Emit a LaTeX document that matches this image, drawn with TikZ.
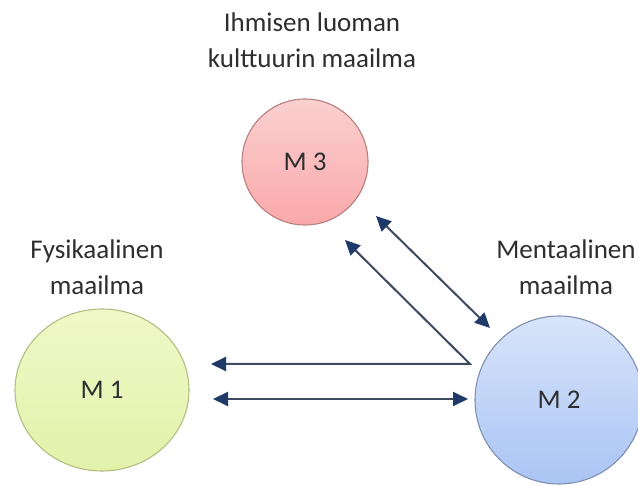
\documentclass[tikz,border=0pt]{standalone}
\usepackage{fontspec}
\setmainfont{Carlito}
\usetikzlibrary{arrows.meta,shapes.geometric}
\definecolor{txt}{HTML}{2E2E2E}
\definecolor{arrc}{HTML}{1F3A68}
\definecolor{linec}{HTML}{3E4A60}
\tikzset{
  lbl/.style={align=center,text=txt,font=\fontsize{27}{36}\selectfont},
  world/.style={ellipse,line width=1.1pt,text=txt,font=\fontsize{27}{32}\selectfont,inner sep=0pt},
  conn/.style={draw=linec,line width=2pt,{Triangle[length=15pt,width=14pt,fill=arrc,color=arrc]}-{Triangle[length=15pt,width=14pt,fill=arrc,color=arrc]}}
}
\begin{document}
\begin{tikzpicture}[x=1pt,y=-1pt]
\useasboundingbox (0,0) rectangle (638,486);
\fill[white] (0,0) rectangle (638,486);
% worlds
\node[world,minimum width=126pt,minimum height=126pt,draw={rgb,255:red,184;green,128;blue,128},top color={rgb,255:red,250;green,208;blue,208},bottom color={rgb,255:red,250;green,168;blue,170}] (m3) at (305,162) {M 3};
\node[world,minimum width=174pt,minimum height=162pt,draw={rgb,255:red,180;green,190;blue,130},top color={rgb,255:red,240;green,248;blue,200},bottom color={rgb,255:red,226;green,242;blue,170}] (m1) at (102,390) {M 1};
\node[world,minimum width=168pt,minimum height=168pt,draw={rgb,255:red,128;green,144;blue,176},top color={rgb,255:red,216;green,228;blue,250},bottom color={rgb,255:red,170;green,196;blue,244}] (m2) at (559,400) {M 2};
% labels
\node[lbl] (l3) at (312,40) {Ihmisen luoman\\kulttuurin maailma};
\node[lbl] (l1) at (97,267) {Fysikaalinen\\maailma};
\node[lbl] (l2) at (566,267) {Mentaalinen\\maailma};
% connector end points
\coordinate (j) at (470,364);
\coordinate (a1) at (345,240);
\coordinate (a2) at (211,364);
\coordinate (b1) at (213,399);
\coordinate (b2) at (468,399);
\coordinate (c1) at (376,216);
\coordinate (c2) at (490,328);
\draw[conn,line join=miter] (a1) -- (j) -- (a2);
\draw[conn] (b1) -- (b2);
\draw[conn] (c1) -- (c2);
\end{tikzpicture}
\end{document}
